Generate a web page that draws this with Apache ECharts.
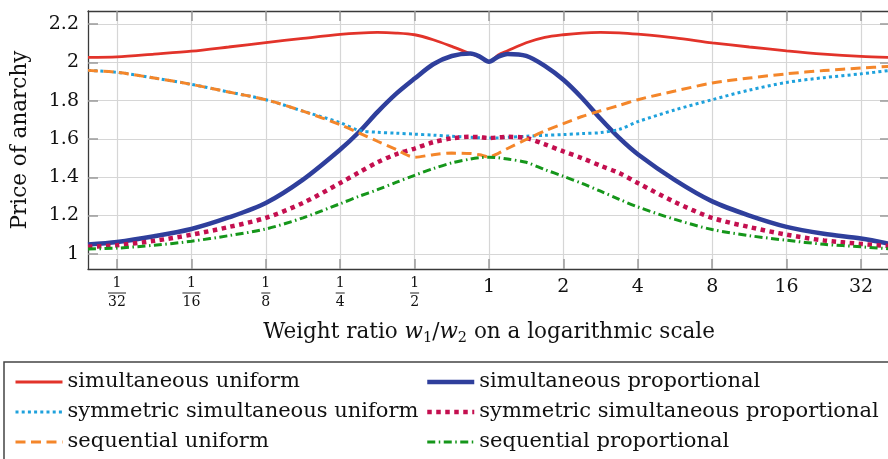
<!DOCTYPE html>
<html>
<head>
<meta charset="utf-8">
<script src="https://cdn.jsdelivr.net/npm/echarts@6/dist/echarts.min.js"></script>
<style>
html, body { margin: 0; padding: 0; background: #fff; }
#chart { width: 888px; height: 459px; }
</style>
</head>
<body>
<div id="chart"></div>
<script>
// x = log2(w1/w2)
const logRatio = [-5.39, -5, -4.5, -4, -3.5, -3, -2.5, -2, -1.75, -1.5, -1.25, -1, -0.75, -0.5, -0.25, -0.125,
    0, 0.125, 0.25, 0.5, 0.75, 1, 1.25, 1.5, 1.75, 2, 2.5, 3, 3.5, 4, 4.5, 5, 5.39];

const simUniform = [2.026, 2.029, 2.043, 2.058, 2.080, 2.103, 2.125, 2.146, 2.153, 2.156, 2.153, 2.144, 2.118, 2.083, 2.045, 2.028,
    2.003, 2.038, 2.060, 2.102, 2.130, 2.144, 2.153, 2.156, 2.154, 2.147, 2.128, 2.102, 2.080, 2.060, 2.043, 2.031, 2.026];
const simProp = [1.049, 1.062, 1.092, 1.130, 1.190, 1.266, 1.388, 1.545, 1.635, 1.740, 1.835, 1.915, 1.990, 2.033, 2.046, 2.030,
    2.003, 2.030, 2.044, 2.034, 1.982, 1.909, 1.814, 1.705, 1.605, 1.520, 1.385, 1.274, 1.200, 1.141, 1.105, 1.080, 1.052];
const symSimUniform = [1.958, 1.948, 1.918, 1.885, 1.845, 1.805, 1.745, 1.685, 1.645, 1.635, 1.630, 1.625, 1.620, 1.614, 1.609, 1.606,
    1.605, 1.606, 1.609, 1.614, 1.619, 1.623, 1.628, 1.633, 1.650, 1.690, 1.752, 1.805, 1.855, 1.895, 1.920, 1.940, 1.958];
const symSimProp = [1.037, 1.045, 1.068, 1.100, 1.140, 1.188, 1.266, 1.370, 1.425, 1.478, 1.520, 1.550, 1.583, 1.603, 1.611, 1.609,
    1.605, 1.608, 1.611, 1.605, 1.572, 1.535, 1.500, 1.460, 1.422, 1.370, 1.270, 1.188, 1.140, 1.100, 1.070, 1.052, 1.040];
const seqUniform = [1.958, 1.948, 1.918, 1.885, 1.845, 1.805, 1.745, 1.674, 1.632, 1.588, 1.545, 1.505, 1.518, 1.526, 1.524, 1.517,
    1.506, 1.525, 1.550, 1.597, 1.642, 1.680, 1.717, 1.747, 1.775, 1.805, 1.850, 1.892, 1.918, 1.940, 1.957, 1.970, 1.979];
const seqProp = [1.026, 1.030, 1.045, 1.066, 1.095, 1.130, 1.188, 1.262, 1.300, 1.335, 1.373, 1.410, 1.445, 1.475, 1.495, 1.502,
    1.505, 1.502, 1.495, 1.478, 1.440, 1.405, 1.368, 1.327, 1.285, 1.245, 1.180, 1.127, 1.095, 1.071, 1.050, 1.037, 1.026];

const xTicks = [-5, -4, -3, -2, -1, 0, 1, 2, 3, 4, 5];
const yTicks = [1, 1.2, 1.4, 1.6, 1.8, 2, 2.2];

const FONT = "DejaVu Serif";
const frame = { show: true, onZero: false, lineStyle: { color: "#3a3a3a", width: 1.3 } };

// line styles, shared by the plot and the legend
const styles = {
    "simultaneous uniform": { color: "#e2332a", width: 2.8, type: "solid" },
    "simultaneous proportional": { color: "#2f3f9c", width: 4.5, type: "solid" },
    "symmetric simultaneous uniform": { color: "#1ea1dc", width: 3, type: [3, 3.2] },
    "symmetric simultaneous proportional": { color: "#c40f4f", width: 4.5, type: [4.5, 4.5] },
    "sequential uniform": { color: "#f4862a", width: 3, type: [10, 5.5] },
    "sequential proportional": { color: "#15961a", width: 3, type: [8, 3.5, 1.5, 3.5] },
};

function tick(values) {
    return { show: true, inside: true, length: 10, customValues: values, lineStyle: { color: "#9a9a9a", width: 1.5 } };
}

// tick label: 2^k, fractions for negative k
function xLabel(v) {
    const k = Math.round(v);
    if (k < 0) {
        const d = Math.pow(2, -k);
        return "{n|1}\n{" + (d >= 10 ? "b2" : "b1") + "| }\n{d|" + d + "}";
    }
    return String(Math.pow(2, k));
}

function mkLine(name, values, z) {
    const s = styles[name];
    return {
        name: name,
        type: "line",
        data: logRatio.map((x, i) => [x, values[i]]),
        symbol: "none",
        showSymbol: false,
        smooth: 0.3,
        z: z,
        itemStyle: { color: s.color },
        lineStyle: { color: s.color, width: s.width, type: s.type, cap: "butt" },
    };
}

function legendItem(name) {
    const s = styles[name];
    return { name: name, lineStyle: { color: s.color, width: s.width, type: s.type, cap: "butt" } };
}

const legendBase = {
    orient: "vertical",
    top: 371,
    padding: 0,
    itemWidth: 47,
    itemHeight: 14,
    itemGap: 8,
    itemStyle: { opacity: 0 },
    textStyle: { fontFamily: FONT, fontSize: 21, color: "#111", lineHeight: 22 },
};

const chart = echarts.init(document.getElementById("chart"));

chart.setOption({
    animation: false,
    backgroundColor: "#fff",
    textStyle: { fontFamily: FONT },
    grid: { left: 88, right: -2, top: 11, bottom: 190, containLabel: false, outerBoundsMode: "none" },
    xAxis: [
        {
            type: "value",
            position: "bottom",
            min: -5.39,
            max: 5.39,
            axisLine: frame,
            axisTick: tick(xTicks),
            splitLine: { show: true, lineStyle: { color: "#d6d6d6", width: 1.2 } },
            axisLabel: {
                customValues: xTicks,
                formatter: xLabel,
                margin: 7,
                color: "#111",
                fontFamily: FONT,
                fontSize: 19,
                lineHeight: 22,
                verticalAlign: "top",
                rich: {
                    n: { fontFamily: FONT, fontSize: 14, lineHeight: 15, color: "#111", align: "center" },
                    d: { fontFamily: FONT, fontSize: 14, lineHeight: 15, color: "#111", align: "center" },
                    b1: { width: 9, height: 1, lineHeight: 4, fontSize: 1, backgroundColor: "#222", align: "center" },
                    b2: { width: 18, height: 1, lineHeight: 4, fontSize: 1, backgroundColor: "#222", align: "center" },
                },
            },
            name: "Weight ratio {it|w}{sub|1}/{it|w}{sub|2} on a logarithmic scale",
            nameLocation: "middle",
            nameGap: 49,
            nameTextStyle: {
                fontFamily: FONT, fontSize: 21.5, color: "#111", lineHeight: 28,
                rich: {
                    it: { fontFamily: FONT, fontStyle: "italic", fontSize: 21.5, lineHeight: 28, color: "#111" },
                    sub: { fontFamily: FONT, fontSize: 14.5, lineHeight: 15, verticalAlign: "bottom", color: "#111" },
                },
            },
        },
        {
            type: "value",
            position: "top",
            min: -5.39,
            max: 5.39,
            axisLine: frame,
            axisTick: tick(xTicks),
            axisLabel: { show: false },
            splitLine: { show: false },
        },
    ],
    yAxis: [
        {
            type: "value",
            position: "left",
            min: 0.921,
            max: 2.268,
            axisLine: frame,
            axisTick: tick(yTicks),
            splitLine: { show: true, lineStyle: { color: "#d6d6d6", width: 1.2 } },
            axisLabel: {
                customValues: yTicks,
                formatter: (v) => String(+v.toFixed(1)),
                margin: 9,
                color: "#111",
                fontFamily: FONT,
                fontSize: 19,
            },
            name: "Price of anarchy",
            nameLocation: "middle",
            nameRotate: 90,
            nameGap: 57,
            nameTextStyle: { fontFamily: FONT, fontSize: 21.5, color: "#111" },
        },
        {
            type: "value",
            position: "right",
            min: 0.921,
            max: 2.268,
            axisLine: frame,
            axisTick: tick(yTicks),
            axisLabel: { show: false },
            splitLine: { show: false },
        },
    ],
    legend: [
        Object.assign({}, legendBase, {
            data: ["simultaneous uniform", "symmetric simultaneous uniform", "sequential uniform"].map(legendItem),
            left: 14,
        }),
        Object.assign({}, legendBase, {
            data: ["simultaneous proportional", "symmetric simultaneous proportional", "sequential proportional"].map(legendItem),
            left: 425,
        }),
    ],
    graphic: [
        {
            type: "rect",
            shape: { x: 4, y: 362, width: 890, height: 110 },
            style: { fill: "none", stroke: "#444", lineWidth: 1.5 },
            silent: true,
        },
    ],
    series: [
        mkLine("simultaneous uniform", simUniform, 2),
        mkLine("simultaneous proportional", simProp, 3),
        mkLine("symmetric simultaneous uniform", symSimUniform, 4),
        mkLine("symmetric simultaneous proportional", symSimProp, 5),
        mkLine("sequential uniform", seqUniform, 6),
        mkLine("sequential proportional", seqProp, 7),
    ],
});
</script>
</body>
</html>
